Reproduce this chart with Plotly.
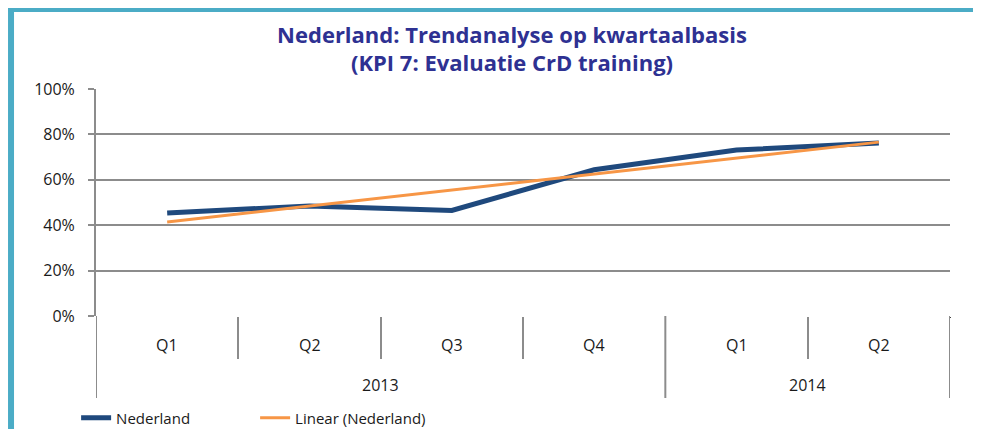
import plotly.graph_objects as go

years = ["2013", "2013", "2013", "2013", "2014", "2014"]
quarters = ["Q1", "Q2", "Q3", "Q4", "Q1", "Q2"]
year_labels = ["2013", "2014"]
year_centers = [1.5, 4.5]
year_bounds = [-0.5, 3.5, 5.5]
nederland = [0.454, 0.485, 0.465, 0.644, 0.731, 0.762]
trend = [0.414, 0.484, 0.555, 0.625, 0.695, 0.766]

title_text = "Nederland: Trendanalyse op kwartaalbasis<br>(KPI 7: Evaluatie CrD training)"

navy = "#1F497D"
orange = "#F79646"
grid = "#8C8C8C"
font_family = "Open Sans, Liberation Sans, sans-serif"

fig = go.Figure()
fig.add_trace(go.Scatter(x=[years, quarters], y=nederland, mode="lines", name="Nederland",
                         line=dict(color=navy, width=5)))
fig.add_trace(go.Scatter(x=[years, quarters], y=trend, mode="lines", name="Linear (Nederland)",
                         line=dict(color=orange, width=3)))

annotations = []
for i, q in enumerate(quarters):
    annotations.append(dict(x=i, y=0, xref="x", yref="y", text=q, showarrow=False,
                            yanchor="middle", yshift=-29,
                            font=dict(size=16, color="#1a1a1a")))
for c, yl in zip(year_centers, year_labels):
    annotations.append(dict(x=c, y=0, xref="x", yref="y", text=yl, showarrow=False,
                            yanchor="middle", yshift=-69,
                            font=dict(size=16, color="#1a1a1a")))

shapes = [dict(type="rect", xref="paper", yref="paper",
               x0=-0.0995, x1=1.0316, y0=-0.6, y1=1.352,
               line=dict(color="#4BACC6", width=6), fillcolor="rgba(0,0,0,0)", layer="below")]
for b in year_bounds:
    shapes.append(dict(type="line", xref="x", yref="paper", x0=b, x1=b, y0=0, y1=-82 / 227,
                       line=dict(color=grid, width=2)))

fig.update_layout(
    width=973, height=421,
    margin=dict(l=88, r=31, t=81, b=113, autoexpand=False),
    paper_bgcolor="white", plot_bgcolor="white",
    font=dict(family=font_family, size=16, color="#1a1a1a"),
    title=dict(text=title_text, x=0.518, xanchor="center", y=0.918, yanchor="middle",
               font=dict(family=font_family, size=22, color="#2E3192", weight="bold")),
    showlegend=True,
    legend=dict(orientation="h", xref="container", yref="container",
                x=0.070, xanchor="left", y=0.026, yanchor="middle",
                font=dict(size=15, color="#1a1a1a"), bgcolor="rgba(0,0,0,0)",
                entrywidth=134, entrywidthmode="pixels"),
    xaxis=dict(type="multicategory", range=[-0.5, 5.5], showgrid=False, showline=False,
               zeroline=False, showticklabels=False, automargin=False,
               ticks="outside", tickson="boundaries", ticklen=42, tickcolor=grid, tickwidth=2),
    yaxis=dict(range=[0, 1], dtick=0.2, tickformat=".0%", showgrid=True, gridcolor=grid,
               gridwidth=2, zeroline=False, showline=True, linecolor=grid, linewidth=2,
               automargin=False, ticklabelstandoff=10,
               ticks="outside", ticklen=6, tickcolor=grid, tickwidth=2,
               tickfont=dict(size=16, color="#1a1a1a")),
    annotations=annotations,
    shapes=shapes,
)

fig.write_html("out.html")
